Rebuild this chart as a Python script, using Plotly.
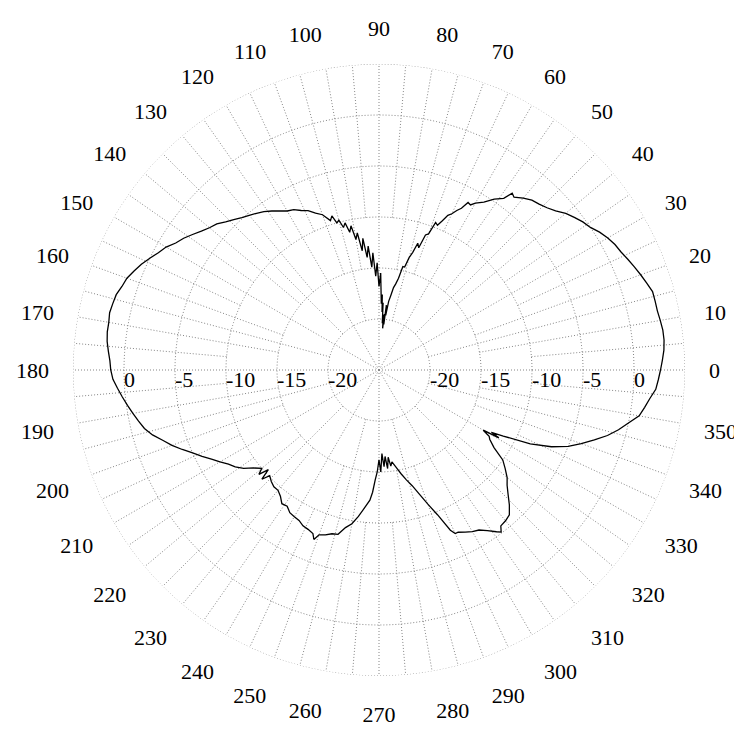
import plotly.graph_objects as go

# ---- data ----
angles = [0, 2, 4, 6, 8, 10, 12, 14, 16, 18, 20, 22, 24, 26, 28, 30, 32, 34, 36, 38,
          40, 42, 44, 46, 48, 50, 52, 53, 54, 56, 58, 60, 61, 62, 63, 64, 65, 66, 67, 68,
          69, 70, 71, 72, 73, 74, 75, 76, 77, 78, 79, 80, 81, 82, 83, 83.5, 84, 84.5, 85, 85.5,
          86, 86.5, 87, 87.5, 88, 89, 90, 91, 92, 93, 94, 95, 96, 97, 98, 99, 100, 101, 102, 103,
          104, 105, 106, 107, 108, 110, 112, 114, 116, 118, 120, 122, 124, 126, 128, 130, 132, 134, 136, 138,
          140, 142, 144, 146, 148, 150, 152, 154, 156, 158, 160, 162, 164, 166, 168, 170, 172, 174, 176, 178,
          180, 182, 184, 186, 188, 190, 192, 194, 196, 198, 200, 202, 204, 206, 208, 210, 212, 214, 216, 218,
          220, 221, 222, 223, 224, 226, 228, 230, 232, 234, 236, 238, 240, 242, 244, 246, 248, 249, 250, 252,
          254, 256, 258, 260, 262, 264, 266, 267, 268, 269, 270, 271, 272, 273, 274, 275, 276, 277, 278, 280,
          282, 284, 286, 288, 290, 292, 294, 295, 296, 298, 300, 302, 304, 306, 307, 308, 310, 312, 314, 316,
          318, 320, 322, 324, 326, 328, 329, 330, 330.5, 331, 332, 334, 336, 338, 340, 342, 344, 346, 348, 350,
          352, 354, 356, 358, 360]
gain_db = [2.6, 2.8, 3.0, 3.1, 3.1, 3.0, 2.9, 2.9, 2.9, 2.6, 2.3, 2.0, 1.7, 1.4, 1.2, 0.9, 0.5, 0.0, -0.3, -0.7,
           -1.1, -1.7, -2.1, -2.4, -2.6, -3.0, -3.5, -3.3, -4.2, -4.8, -5.6, -6.1, -6.5, -6.4, -7.2, -7.6, -8.1, -8.4, -9.1, -9.7,
           -9.5, -10.8, -11.0, -12.4, -12.0, -13.0, -13.6, -14.6, -14.6, -15.8, -16.4, -16.8, -17.6, -18.2, -19.6, -18.6, -20.5, -19.5, -20.9, -19.6,
           -20.4, -18.4, -19.3, -17.6, -18.5, -15.5, -16.8, -14.5, -15.8, -13.5, -14.9, -12.8, -13.9, -12.0, -13.2, -11.4, -12.0, -10.6, -11.2, -10.2,
           -10.6, -9.8, -10.0, -9.2, -9.6, -8.8, -8.4, -7.9, -7.6, -7.2, -7.0, -6.6, -6.2, -5.8, -5.5, -5.2, -4.9, -4.5, -4.1, -3.6,
           -3.3, -2.9, -2.4, -1.9, -1.5, -0.9, -0.5, 0.0, 0.5, 0.9, 1.3, 1.5, 1.8, 1.9, 2.0, 1.9, 1.9, 1.8, 1.6, 1.4,
           1.3, 1.1, 0.7, 0.3, -0.1, -0.5, -0.9, -1.3, -1.9, -2.7, -3.4, -4.2, -5.0, -5.7, -6.4, -7.0, -7.6, -8.0, -8.6, -9.4,
           -10.0, -9.4, -10.4, -9.3, -10.1, -9.8, -9.6, -9.6, -9.3, -8.8, -8.9, -8.5, -8.4, -8.3, -8.0, -7.9, -7.7, -7.2, -7.8, -8.0,
           -8.3, -8.4, -9.2, -9.7, -10.5, -11.4, -12.2, -13.0, -14.2, -15.0, -16.2, -15.0, -16.8, -15.5, -16.5, -15.3, -16.4, -15.5, -15.9, -15.3,
           -14.6, -13.9, -13.2, -12.2, -11.0, -9.7, -7.8, -7.3, -7.3, -7.0, -6.7, -6.5, -6.0, -5.4, -5.1, -5.6, -5.7, -5.9, -6.6, -7.4,
           -8.1, -8.6, -9.3, -10.0, -11.4, -12.2, -12.4, -13.2, -11.5, -12.4, -11.2, -8.5, -6.5, -5.0, -3.9, -2.8, -1.7, -0.8, 0.0, 0.9,
           1.3, 1.7, 2.2, 2.4, 2.6]

radial_ticks = [-20, -15, -10, -5, 0]
radial_labels = ["-20", "-15", "-10", "-5", "0"]
r_min, r_max = -25, 5
angle_ticks = list(range(0, 360, 10))
angle_labels = [str(a) for a in angle_ticks]

# grid structure: circles, and spokes whose start radius depends on angular spacing
grid_circles = [-20, -15, -10, -5, 0, 5]
spoke_rules = [(30, -25), (15, -20), (10, -15), (5, -10)]  # (step, start radius)

GRID = "#858585"
DOTS = "1px,2px"
FONT = "Liberation Serif"

fig = go.Figure()

# circles
circ_r, circ_t = [], []
for c in grid_circles:
    th = [i for i in range(361)]
    circ_r += [c] * len(th) + [None]
    circ_t += th + [None]
fig.add_trace(go.Scatterpolar(r=circ_r, theta=circ_t, mode="lines",
                              line=dict(color=GRID, width=1, dash=DOTS),
                              hoverinfo="skip", showlegend=False))
# spokes (each angle drawn once)
sp_r, sp_t = [], []
for a in range(0, 360, 5):
    start = next(s for step, s in spoke_rules if a % step == 0)
    sp_r += [start, r_max, None]
    sp_t += [a, a, None]
fig.add_trace(go.Scatterpolar(r=sp_r, theta=sp_t, mode="lines",
                              line=dict(color=GRID, width=1, dash=DOTS),
                              hoverinfo="skip", showlegend=False))

# pattern
fig.add_trace(go.Scatterpolar(r=gain_db, theta=angles, mode="lines",
                              line=dict(color="black", width=1.3),
                              showlegend=False))

# radial tick labels on both sides
fig.add_trace(go.Scatterpolar(r=radial_ticks + radial_ticks,
                              theta=[0] * len(radial_ticks) + [180] * len(radial_ticks),
                              mode="text", text=radial_labels + radial_labels,
                              textposition="bottom right",
                              textfont=dict(family=FONT, size=22, color="black"),
                              hoverinfo="skip", showlegend=False))

fig.update_layout(
    width=742, height=740,
    margin=dict(l=0, r=0, t=0, b=0),
    paper_bgcolor="white",
    plot_bgcolor="white",
    font=dict(family=FONT, size=22, color="black"),
    polar=dict(
        domain=dict(x=[65 / 742, 677 / 742], y=[72 / 740, 684 / 740]),
        bgcolor="white",
        radialaxis=dict(range=[r_min, r_max], showticklabels=False, showgrid=False,
                        showline=False, ticks=""),
        angularaxis=dict(tickmode="array", tickvals=angle_ticks, ticktext=angle_labels,
                         direction="counterclockwise", rotation=0,
                         showgrid=False, showline=False, ticks="outside",
                         ticklen=19, tickcolor="rgba(0,0,0,0)",
                         tickfont=dict(family=FONT, size=22, color="black")),
    ),
)

fig.write_html("out.html")
